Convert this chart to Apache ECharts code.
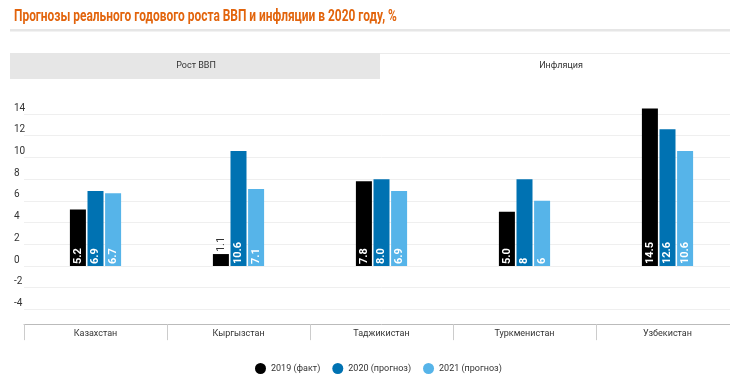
<!DOCTYPE html>
<html>
<head>
<meta charset="utf-8">
<script src="https://cdn.jsdelivr.net/npm/echarts@6/dist/echarts.min.js"></script>
<style>
html,body{margin:0;padding:0;background:#fff;overflow:hidden;width:730px;height:378px;}
#chart{width:739px;height:378px;}
</style>
</head>
<body>
<div id="chart"></div>
<script>
var titleText = 'Прогнозы реального годового роста ВВП и инфляции в 2020 году, %';
var categories = ['Казахстан', 'Кыргызстан', 'Таджикистан', 'Туркменистан', 'Узбекистан'];
var seriesNames = ['2019 (факт)', '2020 (прогноз)', '2021 (прогноз)'];
var values2019 = [5.2, 1.1, 7.8, 5.0, 14.5];
var values2020 = [6.9, 10.6, 8.0, 8, 12.6];
var values2021 = [6.7, 7.1, 6.9, 6, 10.6];
var labels2019 = ['5.2', '1.1', '7.8', '5.0', '14.5'];
var labels2020 = ['6.9', '10.6', '8.0', '8', '12.6'];
var labels2021 = ['6.7', '7.1', '6.9', '6', '10.6'];
var tabLabels = ['Рост ВВП', 'Инфляция'];
var colors = ['#000000', '#0072B2', '#56B4E9'];

var FONT = 'Roboto, "Noto Sans", sans-serif';

function makeData(vals, labs) {
  return vals.map(function (v, i) {
    var item = { value: v, labelText: labs[i] };
    if (v < 2) {
      item.label = {
        position: 'top', color: '#333', fontWeight: 'normal',
        rotate: 90, align: 'left', verticalAlign: 'middle', distance: 2
      };
    }
    return item;
  });
}

function makeSeries(name, vals, labs, color) {
  return {
    name: name,
    type: 'bar',
    barWidth: 16,
    barGap: '10%',
    itemStyle: { color: color },
    label: {
      show: true,
      position: 'insideBottom',
      rotate: 90,
      align: 'left',
      verticalAlign: 'middle',
      distance: 2,
      color: '#fff',
      fontWeight: 'bold',
      fontSize: 11,
      fontFamily: FONT,
      formatter: function (p) { return p.data.labelText; }
    },
    data: makeData(vals, labs)
  };
}

var chart = echarts.init(document.getElementById('chart'), null, { renderer: 'canvas' });
var zeroY = 266, pxPerUnit = 10.857;
var gridTop = zeroY - 16 * pxPerUnit;
var gridBottomY = zeroY + 6 * pxPerUnit;

chart.setOption({
  animation: false,
  textStyle: { fontFamily: FONT },
  graphic: [
    { type: 'text', x: 14, y: 17, scaleX: 0.745, scaleY: 1,
      style: { text: titleText, fill: '#e2640c', font: 'bold 16px ' + FONT, textAlign: 'left', textVerticalAlign: 'middle' } },
    { type: 'rect', shape: { x: 10, y: 29, width: 729, height: 2.5 }, style: { fill: '#e6e6e6' } },
    { type: 'rect', shape: { x: 10, y: 53, width: 370, height: 26 }, style: { fill: '#e6e6e6' } },
    { type: 'rect', shape: { x: 380, y: 53, width: 359, height: 1 }, style: { fill: '#ebebeb' } },
    { type: 'text', x: 196, y: 66, style: { text: tabLabels[0], fill: '#333', font: '9px ' + FONT, textAlign: 'center', textVerticalAlign: 'middle' } },
    { type: 'text', x: 561, y: 66, style: { text: tabLabels[1], fill: '#333', font: '9px ' + FONT, textAlign: 'center', textVerticalAlign: 'middle' } }
  ],
  legend: {
    left: 250, top: 358,
    icon: 'circle', itemWidth: 11, itemHeight: 11, itemGap: 12,
    textStyle: { color: '#333', fontSize: 9, fontFamily: FONT },
    data: seriesNames
  },
  grid: {
    left: 24, right: 0, top: gridTop, bottom: 378 - gridBottomY,
    containLabel: false
  },
  xAxis: {
    type: 'category',
    data: categories,
    offset: -7,
    axisLine: { onZero: false, lineStyle: { color: '#bbb', width: 1 } },
    axisTick: { show: true, length: 16, interval: 0, lineStyle: { color: '#ccc' } },
    axisLabel: { color: '#333', fontSize: 9, margin: 5, interval: 0, fontFamily: FONT }
  },
  yAxis: {
    type: 'value',
    min: -6, max: 16, interval: 2,
    axisLine: { show: false },
    axisTick: { show: false },
    axisLabel: {
      color: '#333', fontSize: 10, align: 'left', margin: 10,
      verticalAlign: 'bottom', lineHeight: 12, fontFamily: FONT,
      showMinLabel: false, showMaxLabel: false
    },
    splitLine: { show: true, showMinLine: false, showMaxLine: false, lineStyle: { color: '#efefef', width: 1 } }
  },
  series: [
    makeSeries(seriesNames[0], values2019, labels2019, colors[0]),
    makeSeries(seriesNames[1], values2020, labels2020, colors[1]),
    makeSeries(seriesNames[2], values2021, labels2021, colors[2])
  ]
});
</script>
</body>
</html>
